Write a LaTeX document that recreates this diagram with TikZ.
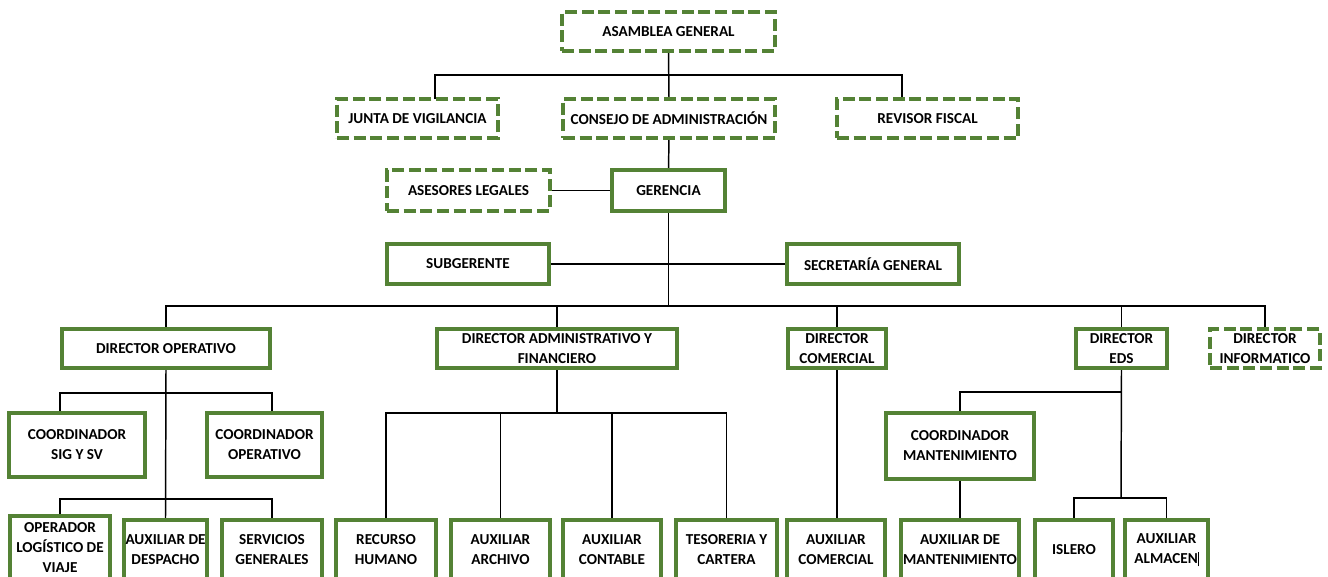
\documentclass[tikz,border=0pt]{standalone}
\usepackage{fontspec}
\setmainfont{Carlito}
\definecolor{boxgreen}{HTML}{548235}
\pgfdeclarelayer{bg}
\pgfsetlayers{bg,main}
\begin{document}
\begin{tikzpicture}[x=0.75pt,y=-0.75pt,
  box/.style={draw=boxgreen, fill=white, line width=3.6pt, inner sep=0pt, outer sep=0pt, align=center, font=\fontsize{11.4}{15}\selectfont\bfseries},
  dbox/.style={box, dash pattern=on 9pt off 3.5pt, line width=3.2pt},
  sz/.style 2 args={minimum width=#1*0.75pt, minimum height=#2*0.75pt},
  link/.style={draw=black, line width=1.1pt}]
\useasboundingbox (0,0) rectangle (1328,576);
\clip (0,0) rectangle (1328,576);
% top levels
\node[dbox, sz={213}{39}] (ag) at (668.5,31.5) {ASAMBLEA GENERAL};
\node[dbox, sz={161}{39}] (jv) at (417.5,118.5) {JUNTA DE VIGILANCIA};
\node[dbox, sz={212}{39}] (ca) at (669,118.5) {CONSEJO DE ADMINISTRACIÓN};
\node[dbox, sz={181}{39}] (rf) at (927.5,118.5) {REVISOR FISCAL};
\node[dbox, sz={163}{41}] (al) at (468.5,190.5) {ASESORES LEGALES};
\node[box, sz={113}{41}] (ge) at (668.5,190.5) {GERENCIA};
\node[box, sz={162}{40}] (sub) at (468,264) {SUBGERENTE};
\node[box, sz={172}{40}] (sec) at (873,264) {SECRETARÍA GENERAL};
% directors
\node[box, sz={208}{39}] (do) at (166,348.5) {DIRECTOR OPERATIVO};
\node[box, sz={240}{39}] (da) at (557,348.5) {DIRECTOR ADMINISTRATIVO Y\\FINANCIERO};
\node[box, sz={98}{39}] (dc) at (837,348.5) {DIRECTOR\\COMERCIAL};
\node[box, sz={91}{39}] (de) at (1121.5,348.5) {DIRECTOR\\EDS};
\node[dbox, sz={110}{39}] (di) at (1265,348.5) {DIRECTOR\\INFORMATICO};
% coordinators
\node[box, sz={136}{64}] (c1) at (77,445) {COORDINADOR\\SIG Y SV};
\node[box, sz={115}{64}] (c2) at (264.5,445) {COORDINADOR\\OPERATIVO};
\node[box, sz={148}{66}] (cm) at (960,446) {COORDINADOR\\MANTENIMIENTO};
% bottom row
\node[box, sz={100}{64}] (op) at (60,548) {OPERADOR\\LOGÍSTICO DE\\VIAJE};
\node[box, sz={83}{60}] (ad) at (165.5,550) {AUXILIAR DE\\DESPACHO};
\node[box, sz={100}{60}] (sg) at (272,550) {SERVICIOS\\GENERALES};
\node[box, sz={100}{60}] (rh) at (386,550) {RECURSO\\HUMANO};
\node[box, sz={99}{60}] (aa) at (500.5,550) {AUXILIAR\\ARCHIVO};
\node[box, sz={98}{60}] (ac) at (612,550) {AUXILIAR\\CONTABLE};
\node[box, sz={101}{60}] (ts) at (726.5,550) {TESORERIA Y\\CARTERA};
\node[box, sz={98}{60}] (acom) at (836,550) {AUXILIAR\\COMERCIAL};
\node[box, sz={118}{60}] (am) at (960,550) {AUXILIAR DE\\MANTENIMIENTO};
\node[box, sz={78}{60}] (is) at (1074,550) {ISLERO};
\node[box, sz={83}{60}] (alm) at (1166.5,550) {AUXILIAR\\ALMACEN\rule[-2pt]{0.6pt}{11pt}};
% connectors
\coordinate (h1l) at (435,75);
\coordinate (h1r) at (902,75);
\coordinate (h2l) at (166,306);
\coordinate (h2r) at (1265,306);
\coordinate (o1) at (60,393);
\coordinate (o2) at (272,393);
\coordinate (o3) at (60,499);
\coordinate (o4) at (272,499);
\coordinate (a1) at (385,413);
\coordinate (e1) at (1121,392);
\coordinate (e2) at (1121,498);
\begin{pgfonlayer}{bg}
\draw[link] (ag.south) -- (ca.north);
\draw[link] (jv.north -| h1l) -- (h1l) -- (h1r) -- (rf.north -| h1r);
\draw[link] (ca.south) -- (ge.north);
\draw[link] (al.east) -- (ge.west);
\draw[link] (ge.south) -- (ge.south |- h2l);
\draw[link] (sub.east) -- (sec.west);
\draw[link] (do.north) -- (h2l) -- (h2r) -- (di.north);
\draw[link] (da.north) -- (da.north |- h2l);
\draw[link] (dc.north) -- (dc.north |- h2l);
\draw[link] (de.north) -- (de.north |- h2l);
% operativo
\draw[link] (do.south) -- (ad.north);
\draw[link] (c1.north -| o1) -- (o1) -- (o2) -- (c2.north -| o2);
\draw[link] (op.north) -- (o3) -- (o4) -- (sg.north);
% administrativo
\draw[link] (da.south) -- (da.south |- a1);
\draw[link] (rh.north) -- (rh.north |- a1) -- (ts.north |- a1) -- (ts.north);
\draw[link] (aa.north) -- (aa.north |- a1);
\draw[link] (ac.north) -- (ac.north |- a1);
% comercial
\draw[link] (dc.south) -- (dc.south |- acom.north);
% eds
\draw[link] (de.south) -- (e2);
\draw[link] (cm.north) -- (cm.north |- e1) -- (e1);
\draw[link] (cm.south) -- (am.north);
\draw[link] (is.north) -- (is.north |- e2) -- (alm.north |- e2) -- (alm.north);
\end{pgfonlayer}
\end{tikzpicture}
\end{document}
